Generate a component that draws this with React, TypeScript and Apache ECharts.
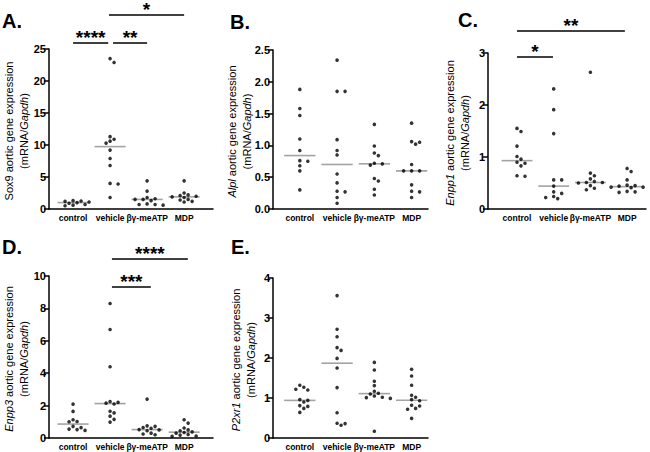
import React, { useEffect, useRef } from "react";
import * as echarts from "echarts";

const FONT = '"Liberation Sans", Arial, Helvetica, sans-serif';

// ---------- DATA ----------
const categories = ["control", "vehicle", "βγ-meATP", "MDP"];

// A: Sox9
const sox9Control = [1.3, 1.25, 1.2, 1.1, 1.0, 0.9, 0.7, 0.6, 0.5];
const sox9Vehicle = [23.5, 22.9, 11.3, 10.9, 10.6, 10.3, 9.2, 7.9, 6.8, 4.0, 3.9, 1.8];
const sox9BgMeATP = [4.4, 2.8, 1.8, 1.6, 1.5, 1.5, 1.3, 0.8, 0.7, 0.7, 0.6];
const sox9MDP = [4.4, 2.5, 2.2, 2.1, 2.0, 1.9, 1.8, 1.5, 1.4, 1.2, 1.1];

// B: Alpl
const alplControl = [1.88, 1.58, 1.47, 1.1, 0.92, 0.76, 0.75, 0.68, 0.6, 0.3];
const alplVehicle = [2.34, 1.85, 1.85, 1.09, 0.92, 0.85, 0.55, 0.41, 0.28, 0.27, 0.18, 0.09];
const alplBgMeATP = [1.33, 0.99, 0.88, 0.84, 0.72, 0.71, 0.69, 0.48, 0.44, 0.31, 0.22];
const alplMDP = [1.35, 1.06, 1.05, 1.02, 0.7, 0.6, 0.6, 0.6, 0.38, 0.28, 0.27, 0.18];

// C: Enpp1
const enpp1Control = [1.55, 1.49, 1.21, 1.01, 0.96, 0.9, 0.88, 0.83, 0.64, 0.63];
const enpp1Vehicle = [2.31, 1.91, 1.45, 0.56, 0.56, 0.44, 0.33, 0.3, 0.24, 0.22, 0.2];
const enpp1BgMeATP = [2.63, 0.69, 0.64, 0.58, 0.53, 0.51, 0.51, 0.5, 0.45, 0.4, 0.37];
const enpp1MDP = [0.78, 0.72, 0.56, 0.46, 0.45, 0.44, 0.42, 0.42, 0.41, 0.34, 0.33, 0.32];

// D: Enpp3
const enpp3Control = [2.09, 1.64, 1.13, 1.02, 1.0, 0.72, 0.64, 0.55, 0.52, 0.47];
const enpp3Vehicle = [8.3, 6.7, 4.4, 2.25, 2.2, 2.15, 2.1, 1.65, 1.55, 1.35, 1.15, 0.98];
const enpp3BgMeATP = [2.4, 0.75, 0.72, 0.65, 0.6, 0.52, 0.5, 0.45, 0.3, 0.25, 0.2];
const enpp3MDP = [1.13, 0.92, 0.62, 0.5, 0.45, 0.38, 0.34, 0.3, 0.22, 0.18, 0.12, 0.1];

// E: P2xr1
const p2xr1Control = [1.32, 1.27, 1.22, 1.2, 0.96, 0.94, 0.9, 0.81, 0.79, 0.74, 0.64];
const p2xr1Vehicle = [3.56, 2.72, 2.53, 2.26, 2.19, 1.99, 1.75, 1.26, 0.63, 0.37, 0.36, 0.32];
const p2xr1BgMeATP = [1.89, 1.7, 1.42, 1.31, 1.17, 1.12, 1.1, 1.05, 1.02, 1.01, 0.99, 0.17];
const p2xr1MDP = [1.72, 1.55, 1.32, 1.07, 1.02, 0.96, 0.93, 0.82, 0.8, 0.74, 0.72, 0.49];

// significance labels
const sigLabelsA = ["****", "**", "*"];
const sigLabelsC = ["*", "**"];
const sigLabelsD = ["***", "****"];

// ---------- LAYOUT ----------
type Sig = { from: number; to: number; y: number; text: string };
type Panel = {
  letter: string;
  letterPos: [number, number];
  groups: number[][];
  yMax: number;
  yInterval: number;
  decimals: number;
  titleLine1: string;
  titleX: number;
  grid: { left: number; top: number; width: number; height: number };
  xMin: number;
  xMax: number;
  sigs: Sig[];
};

const panels: Panel[] = [
  {
    letter: "A.",
    letterPos: [2, 20.5],
    groups: [sox9Control, sox9Vehicle, sox9BgMeATP, sox9MDP],
    yMax: 25,
    yInterval: 5,
    decimals: 0,
    titleLine1: "Sox9 aortic gene expression",
    titleX: 16,
    grid: { left: 49, top: 49, width: 164, height: 160 },
    xMin: -0.65,
    xMax: 3.78,
    sigs: [
      { from: 0, to: 0.95, y: 43, text: sigLabelsA[0] },
      { from: 1.08, to: 2, y: 43, text: sigLabelsA[1] },
      { from: 0.97, to: 3, y: 15, text: sigLabelsA[2] },
    ],
  },
  {
    letter: "B.",
    letterPos: [230, 21.5],
    groups: [alplControl, alplVehicle, alplBgMeATP, alplMDP],
    yMax: 2.5,
    yInterval: 0.5,
    decimals: 1,
    titleLine1: "{i|Alpl} aortic gene expression",
    titleX: 239,
    grid: { left: 273, top: 50, width: 155, height: 159 },
    xMin: -0.72,
    xMax: 3.44,
    sigs: [],
  },
  {
    letter: "C.",
    letterPos: [458, 20],
    groups: [enpp1Control, enpp1Vehicle, enpp1BgMeATP, enpp1MDP],
    yMax: 3,
    yInterval: 1,
    decimals: 0,
    titleLine1: "{i|Enpp1} aortic gene expression",
    titleX: 457,
    grid: { left: 488, top: 53, width: 158, height: 156 },
    xMin: -0.79,
    xMax: 3.515,
    sigs: [
      { from: 0, to: 0.98, y: 57, text: sigLabelsC[0] },
      { from: 0, to: 2.94, y: 31, text: sigLabelsC[1] },
    ],
  },
  {
    letter: "D.",
    letterPos: [2, 246.5],
    groups: [enpp3Control, enpp3Vehicle, enpp3BgMeATP, enpp3MDP],
    yMax: 10,
    yInterval: 2,
    decimals: 0,
    titleLine1: "{i|Enpp3} aortic gene expression",
    titleX: 16,
    grid: { left: 49, top: 276, width: 164, height: 162 },
    xMin: -0.65,
    xMax: 3.78,
    sigs: [
      { from: 1.05, to: 2.1, y: 287, text: sigLabelsD[0] },
      { from: 1.05, to: 3.1, y: 259, text: sigLabelsD[1] },
    ],
  },
  {
    letter: "E.",
    letterPos: [231, 246.5],
    groups: [p2xr1Control, p2xr1Vehicle, p2xr1BgMeATP, p2xr1MDP],
    yMax: 4,
    yInterval: 1,
    decimals: 0,
    titleLine1: "{i|P2xr1} aortic gene expression",
    titleX: 243,
    grid: { left: 273, top: 278, width: 155, height: 160 },
    xMin: -0.72,
    xMax: 3.44,
    sigs: [],
  },
];

function median(arr: number[]): number {
  const s = [...arr].sort((a, b) => a - b);
  const n = s.length;
  return n % 2 ? s[(n - 1) / 2] : (s[n / 2 - 1] + s[n / 2]) / 2;
}

// Prism-like horizontal spreading of overlapping dots (pixel space)
function swarmOffsets(values: number[], pxPerY: number, step = 4, minDist = 4.3): number[] {
  const placed: { x: number; y: number }[] = [];
  const out: number[] = [];
  for (const v of values) {
    const y = v * pxPerY;
    let chosen = 0;
    for (let k = 0; k < 60; k++) {
      const cand = k === 0 ? 0 : (k % 2 === 1 ? 1 : -1) * Math.ceil(k / 2) * step;
      if (placed.every((p) => (p.x - cand) ** 2 + (p.y - y) ** 2 >= minDist * minDist)) {
        chosen = cand;
        break;
      }
    }
    placed.push({ x: chosen, y });
    out.push(chosen);
  }
  return out;
}

function buildOption() {
  const grids: any[] = [];
  const xAxes: any[] = [];
  const yAxes: any[] = [];
  const series: any[] = [];
  const graphics: any[] = [];

  panels.forEach((p, i) => {
    grids.push({ ...p.grid, containLabel: false });
    const pxPerX = p.grid.width / (p.xMax - p.xMin);
    const pxPerY = p.grid.height / p.yMax;
    const xPx = (v: number) => p.grid.left + (v - p.xMin) * pxPerX;

    xAxes.push({
      gridIndex: i,
      type: "value",
      min: p.xMin,
      max: p.xMax,
      axisLine: { show: true, onZero: false, lineStyle: { color: "#000", width: 1.5 } },
      axisTick: { show: false },
      splitLine: { show: false },
      axisLabel: {
        customValues: [0, 1, 2, 3],
        formatter: (v: number) => categories[Math.round(v)] ?? "",
        color: "#000",
        fontFamily: FONT,
        fontWeight: "bold",
        fontSize: 8.5,
        margin: 4,
      },
    });
    yAxes.push({
      gridIndex: i,
      type: "value",
      min: 0,
      max: p.yMax,
      interval: p.yInterval,
      axisLine: { show: true, onZero: false, lineStyle: { color: "#000", width: 1.5 } },
      axisTick: { show: true, length: 5, lineStyle: { color: "#000", width: 1.5 } },
      splitLine: { show: false },
      axisLabel: {
        color: "#000",
        fontFamily: FONT,
        fontWeight: "bold",
        fontSize: 11,
        margin: 3,
        formatter: (v: number) => v.toFixed(p.decimals),
      },
    });

    // median lines
    series.push({
      type: "custom",
      xAxisIndex: i,
      yAxisIndex: i,
      z: 1,
      silent: true,
      data: p.groups.map((g, j) => [j, median(g)]),
      renderItem: (_params: any, api: any) => {
        const x = api.value(0);
        const y = api.value(1);
        const a = api.coord([x - 0.42, y]);
        const b = api.coord([x + 0.42, y]);
        return {
          type: "line",
          shape: { x1: a[0], y1: a[1], x2: b[0], y2: b[1] },
          style: { stroke: "#a3a3a3", lineWidth: 1.6 },
        };
      },
    });

    // dots
    const pts: number[][] = [];
    p.groups.forEach((g, j) => {
      const offs = swarmOffsets(g, pxPerY);
      g.forEach((v, k) => pts.push([j + offs[k] / pxPerX, v]));
    });
    series.push({
      type: "scatter",
      xAxisIndex: i,
      yAxisIndex: i,
      z: 3,
      symbol: "circle",
      symbolSize: 3.6,
      itemStyle: { color: "#000" },
      data: pts,
    });

    // panel letter
    graphics.push({
      type: "text",
      x: p.letterPos[0],
      y: p.letterPos[1],
      style: {
        text: p.letter,
        fill: "#000",
        font: `bold 20px ${FONT}`,
        align: "left",
        verticalAlign: "middle",
      },
    });

    // y-axis title
    graphics.push({
      type: "text",
      x: p.titleX,
      y: p.grid.top + p.grid.height / 2 + 2,
      rotation: Math.PI / 2,
      style: {
        text: p.titleLine1 + "\n(mRNA/{i|Gapdh})",
        fill: "#000",
        fontFamily: FONT,
        fontSize: 11,
        lineHeight: 15,
        align: "center",
        verticalAlign: "middle",
        rich: {
          i: { fontStyle: "italic", fontFamily: FONT, fontSize: 11, lineHeight: 15, fill: "#000" },
        },
      },
    });

    // significance bars
    p.sigs.forEach((s) => {
      const x1 = xPx(s.from);
      const x2 = xPx(s.to);
      graphics.push({
        type: "line",
        shape: { x1, y1: s.y, x2, y2: s.y },
        style: { stroke: "#000", lineWidth: 1.6 },
      });
      graphics.push({
        type: "text",
        x: (x1 + x2) / 2,
        y: s.y - 5.5,
        style: {
          text: s.text,
          fill: "#000",
          font: `bold 19px ${FONT}`,
          align: "center",
          verticalAlign: "middle",
        },
      });
    });
  });

  return {
    animation: false,
    backgroundColor: "#fff",
    grid: grids,
    xAxis: xAxes,
    yAxis: yAxes,
    series,
    graphic: graphics,
  };
}

export default function App() {
  const ref = useRef<HTMLDivElement>(null);
  useEffect(() => {
    document.body.style.margin = "0";
    if (!ref.current) return;
    const chart = echarts.init(ref.current, undefined, { renderer: "svg" });
    chart.setOption(buildOption() as any);
    return () => chart.dispose();
  }, []);
  return <div ref={ref} style={{ width: 650, height: 452 }} />;
}
